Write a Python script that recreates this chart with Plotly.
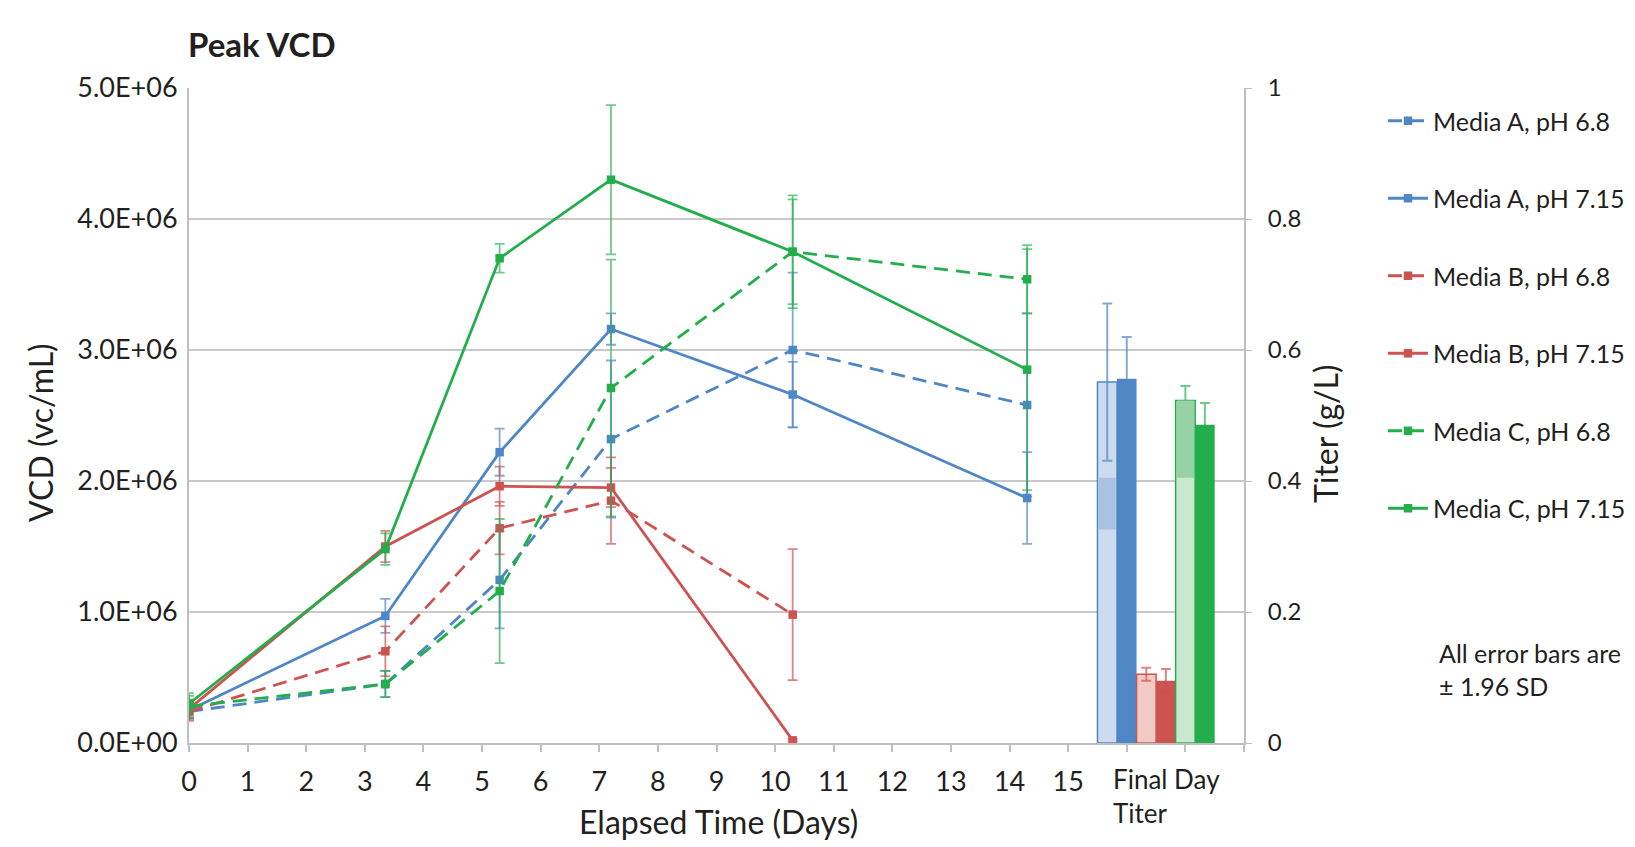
import plotly.graph_objects as go

# ---------------- data ----------------
days = [0, 3.35, 5.3, 7.2, 10.3, 14.3]
x_ticks = list(range(0, 19))
x_ticktext = [str(i) for i in range(0, 16)] + ["", "", ""]

series_names = ["Media A, pH 6.8", "Media A, pH 7.15", "Media B, pH 6.8",
                "Media B, pH 7.15", "Media C, pH 6.8", "Media C, pH 7.15"]

vcd_a68 = [0.24e6, 0.45e6, 1.245e6, 2.32e6, 3.00e6, 2.58e6]
err_a68 = [0.06e6, 0.10e6, 0.37e6, 0.60e6, 0.59e6, 0.70e6]
vcd_a715 = [0.25e6, 0.97e6, 2.22e6, 3.16e6, 2.66e6, 1.87e6]
err_a715 = [0.06e6, 0.13e6, 0.18e6, 0.12e6, 0.25e6, 0.35e6]
vcd_b68 = [0.24e6, 0.70e6, 1.64e6, 1.85e6, 0.98e6, None]
err_b68 = [0.07e6, 0.19e6, 0.20e6, 0.33e6, 0.50e6, None]
vcd_b715 = [0.26e6, 1.50e6, 1.96e6, 1.95e6, 0.02e6, None]
err_b715 = [0.07e6, 0.12e6, 0.15e6, 0.15e6, 0.01e6, None]
vcd_c68 = [0.28e6, 0.45e6, 1.16e6, 2.71e6, 3.75e6, 3.54e6]
err_c68 = [0.08e6, 0.10e6, 0.55e6, 0.98e6, 0.40e6, 0.26e6]
vcd_c715 = [0.30e6, 1.48e6, 3.70e6, 4.30e6, 3.75e6, 2.85e6]
err_c715 = [0.08e6, 0.12e6, 0.11e6, 0.57e6, 0.43e6, 0.92e6]

# final day titer (g/L), one bar per series, grouped around x = 16.5
titer_x = [15.5 + (i + 0.5) / 3 for i in range(6)]
titer = [0.551, 0.556, 0.105, 0.095, 0.523, 0.486]
titer_err = [0.12, 0.064, 0.010, 0.018, 0.022, 0.033]
# darker shaded band drawn inside the pale bars
shade_idx = [0, 4]
shade_lo = [0.326, 0.405]
shade_hi = [0.405, 0.523]

y_ticks = [0, 1e6, 2e6, 3e6, 4e6, 5e6]
y_ticktext = ["0.0E+00", "1.0E+06", "2.0E+06", "3.0E+06", "4.0E+06", "5.0E+06"]
y2_ticks = [0, 0.2, 0.4, 0.6, 0.8, 1]
y2_ticktext = ["0", "0.2", "0.4", "0.6", "0.8", "1"]

# ---------------- style ----------------
BLUE, RED, GREEN = "#4F86C6", "#CC5350", "#22AE4B"
BLUE_E, RED_E, GREEN_E = "rgba(79,134,198,0.7)", "rgba(204,83,80,0.7)", "rgba(34,174,75,0.65)"
colors = [BLUE, BLUE, RED, RED, GREEN, GREEN]
ecolors = [BLUE_E, BLUE_E, RED_E, RED_E, GREEN_E, GREEN_E]
dashes = ["14px,8px", "solid", "14px,8px", "solid", "14px,8px", "solid"]
bar_fill = ["#CCDBEE", BLUE, "#F1CBC3", RED, "#C9E8D0", GREEN]
shade_fill = ["#A9C2E2", "#96D2A6"]
TXT = "#231F20"
FONT = "Lato, 'Open Sans', sans-serif"

vals = [vcd_a68, vcd_a715, vcd_b68, vcd_b715, vcd_c68, vcd_c715]
errs = [err_a68, err_a715, err_b68, err_b715, err_c68, err_c715]

fig = go.Figure()

# bars (secondary axis)
for i in range(6):
    fig.add_trace(go.Bar(
        x=[titer_x[i]], y=[titer[i]], width=1 / 3, yaxis="y2",
        marker=dict(color=bar_fill[i], line=dict(color=colors[i], width=1.5 if i % 2 == 0 else 0)),
        error_y=dict(type="data", array=[titer_err[i]], color=ecolors[i], thickness=2, width=5),
        showlegend=False, hoverinfo="skip"))
for k, i in enumerate(shade_idx):
    fig.add_trace(go.Bar(
        x=[titer_x[i]], y=[shade_hi[k] - shade_lo[k]], base=[shade_lo[k]], width=1 / 3 - 0.04,
        yaxis="y2", marker=dict(color=shade_fill[k], line=dict(width=0)),
        showlegend=False, hoverinfo="skip"))

# lines
for i in range(6):
    fig.add_trace(go.Scatter(
        x=days, y=vals[i], name=series_names[i], mode="lines+markers",
        line=dict(color=colors[i], width=2.8, dash=dashes[i]),
        marker=dict(symbol="square", size=8.5, color=colors[i]),
        error_y=dict(type="data", array=errs[i], color=ecolors[i], thickness=1.8, width=5),
        legendgroup=series_names[i], connectgaps=False))

W, H = 1635, 847
L, R, T, B = 189, 391, 88, 104
pw, ph = W - L - R, H - T - B


def ann(text, x, y, size, xanchor="center", yanchor="middle", angle=0, align="center"):
    return dict(text=text, x=(x - L) / pw, y=1 - (y - T) / ph, xref="paper", yref="paper",
                xanchor=xanchor, yanchor=yanchor, textangle=angle, align=align,
                showarrow=False, font=dict(size=size, color=TXT, family=FONT))


annotations = [
    ann("<b>Peak VCD</b>", 186, 44, 33, xanchor="left"),
    ann("VCD (vc/mL)", 40, 433, 32, angle=-90),
    ann("Elapsed Time (Days)", 718, 822, 32),
    ann("Titer (g/L)", 1326, 434, 32, angle=-90),
    ann("Final Day<br>Titer", 1111, 761, 26, xanchor="left", align="left", yanchor="top"),
    ann("All error bars are<br>± 1.96 SD", 1437, 669, 25, xanchor="left", align="left"),
]

fig.update_layout(
    width=W, height=H, margin=dict(l=L, r=R, t=T, b=B, autoexpand=False),
    paper_bgcolor="white", plot_bgcolor="white",
    font=dict(family=FONT, color=TXT, size=27),
    barmode="overlay",
    annotations=annotations,
    xaxis=dict(range=[0, 18], tickvals=x_ticks, ticktext=x_ticktext, showgrid=False,
               showline=True, linecolor="#BFBFBF", linewidth=2, ticks="outside",
               ticklen=7, tickcolor="#BFBFBF", tickwidth=1.5, zeroline=False,
               ticklabelstandoff=7, tickfont=dict(size=27, color=TXT)),
    yaxis=dict(range=[0, 5e6], tickvals=y_ticks, ticktext=y_ticktext, showgrid=True,
               gridcolor="#C9C9C9", gridwidth=2, showline=True, linecolor="#BFBFBF",
               linewidth=2, zeroline=False, ticks="", ticklabelstandoff=4,
               tickfont=dict(size=27, color=TXT)),
    yaxis2=dict(range=[0, 1], tickvals=y2_ticks, ticktext=y2_ticktext, overlaying="y",
                side="right", showgrid=False, showline=True, linecolor="#BFBFBF",
                linewidth=2, ticks="outside", ticklen=6, tickcolor="#BFBFBF",
                zeroline=False, ticklabelstandoff=11, tickfont=dict(size=24, color=TXT)),
    legend=dict(xref="container", yref="container", x=1383 / W, y=1 - 98 / H,
                xanchor="left", yanchor="top", maxheight=700,
                traceorder="grouped", tracegroupgap=42, bgcolor="rgba(0,0,0,0)",
                font=dict(size=25, color=TXT, family=FONT), itemwidth=40),
    showlegend=True,
)

fig.write_html("out.html", config={"displayModeBar": False},
               post_script="document.body.style.margin='0';")
